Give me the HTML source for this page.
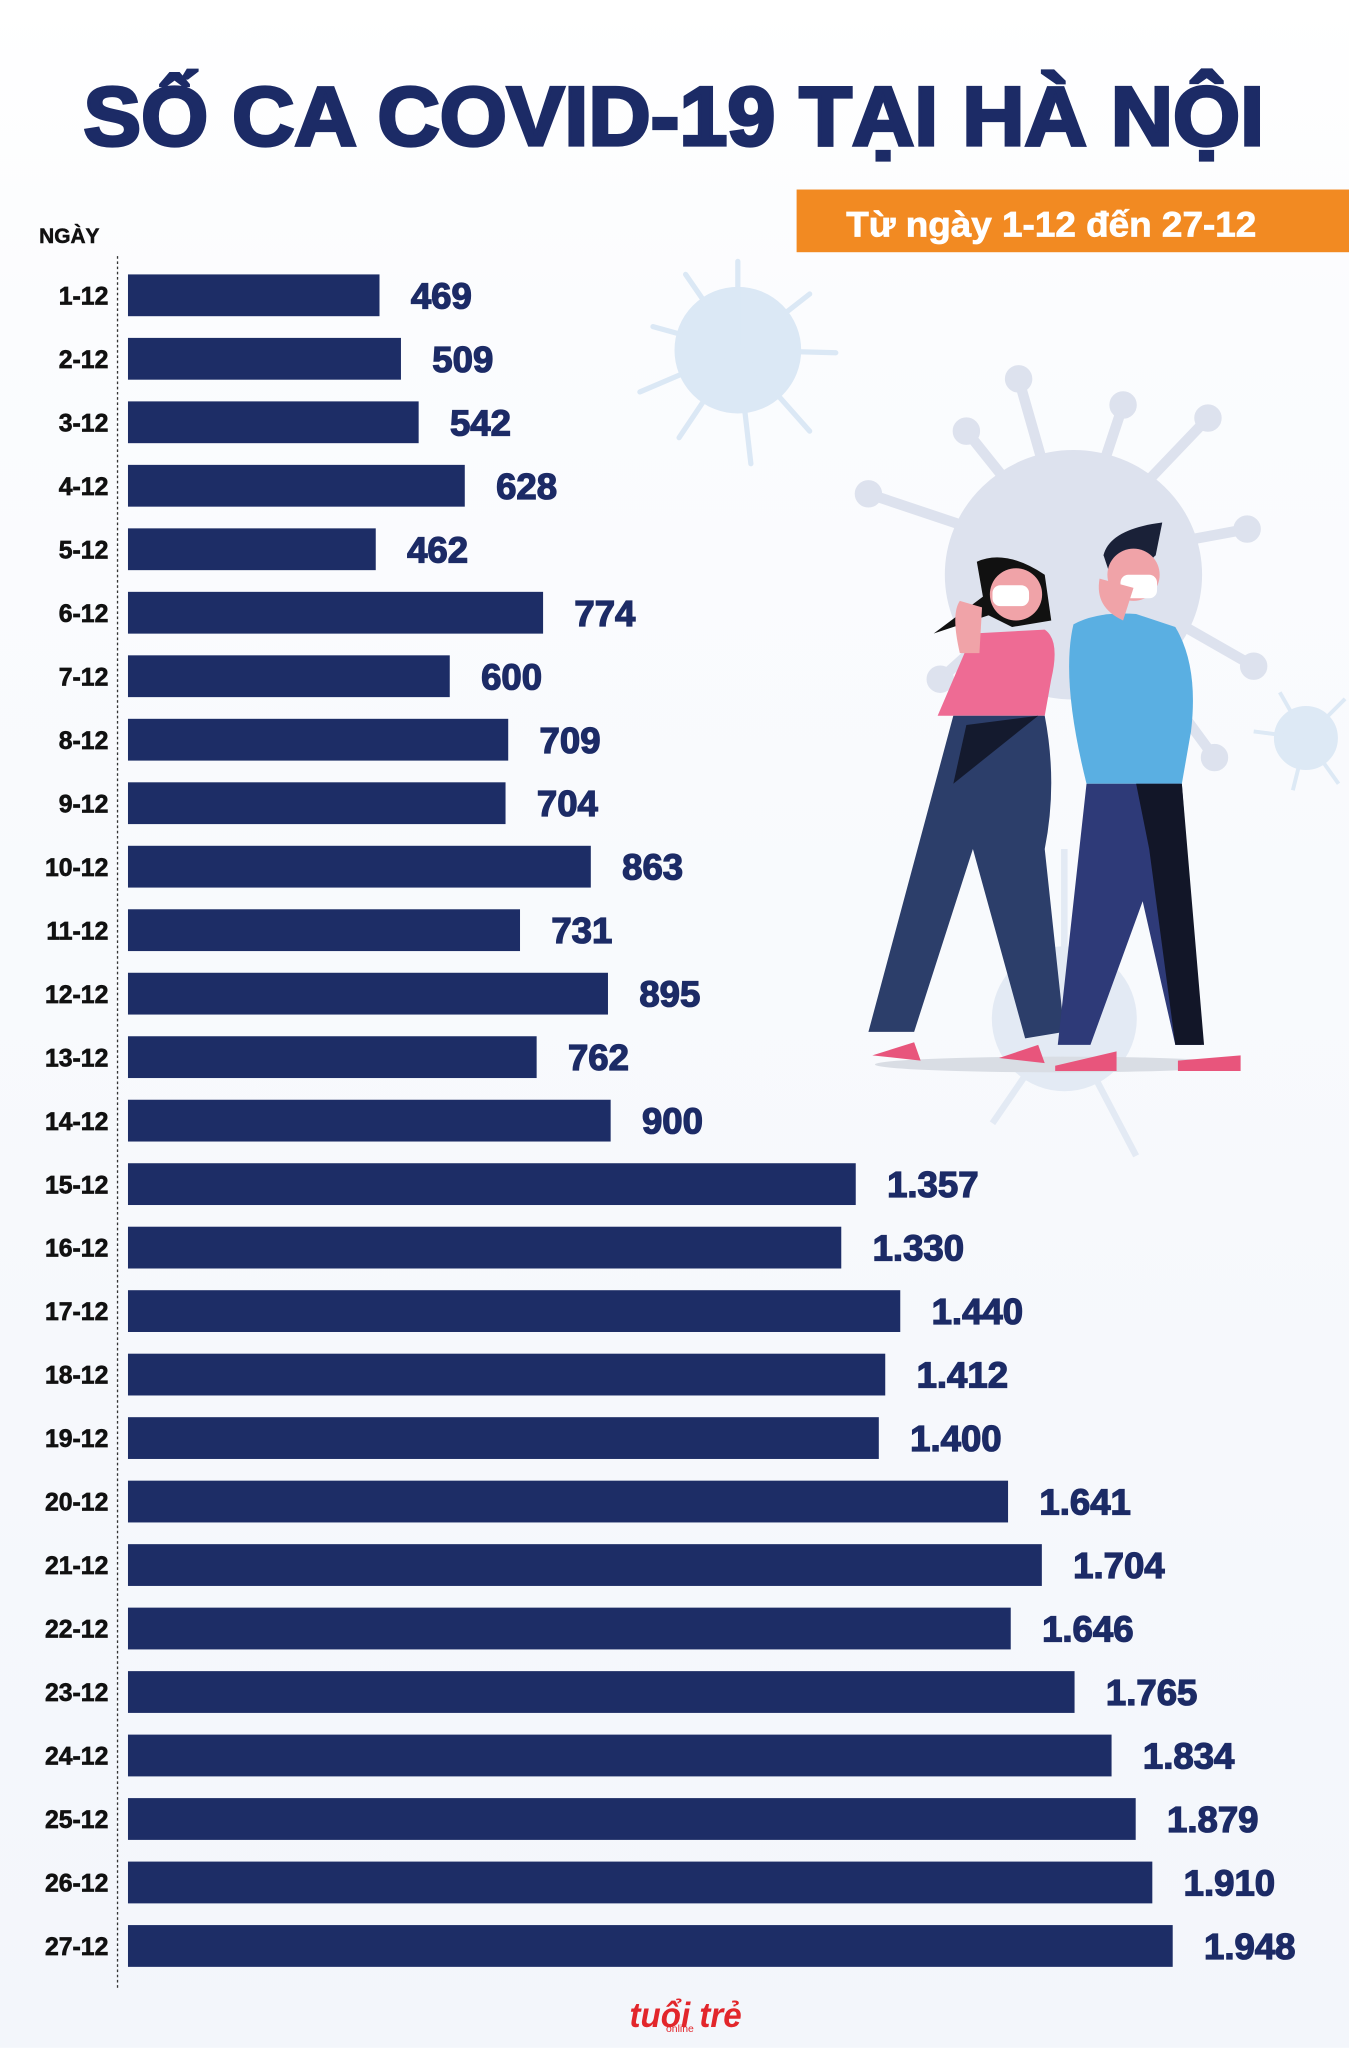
<!DOCTYPE html>
<html><head><meta charset="utf-8"><style>
html,body{margin:0;padding:0;background:#fff}
svg{display:block;font-family:"Liberation Sans",sans-serif}
</style></head><body>
<svg id="chart" width="1349" height="2048" viewBox="0 0 1033 1568" xmlns="http://www.w3.org/2000/svg">
<defs>
<linearGradient id="bg" x1="0" y1="0" x2="0" y2="1">
<stop offset="0" stop-color="#ffffff"/><stop offset="0.15" stop-color="#fbfcfe"/><stop offset="1" stop-color="#f3f6fb"/>
</linearGradient>
</defs>
<rect x="0" y="0" width="1033" height="1568" fill="url(#bg)"/>
<g id="illus">
  <g fill="#dbe8f5" stroke="#dbe8f5">
    <circle cx="565" cy="268" r="48"/>
    <g stroke-width="4" stroke-linecap="round">
      <line x1="565" y1="268" x2="565" y2="200"/><line x1="565" y1="268" x2="620" y2="225"/><line x1="565" y1="268" x2="500" y2="250"/>
      <line x1="565" y1="268" x2="640" y2="270"/><line x1="565" y1="268" x2="490" y2="300"/><line x1="565" y1="268" x2="575" y2="355"/>
      <line x1="565" y1="268" x2="620" y2="330"/><line x1="565" y1="268" x2="520" y2="335"/><line x1="565" y1="268" x2="525" y2="210"/>
    </g>
  </g>
  <g fill="#dde9f5" stroke="#dde9f5">
    <circle cx="1000" cy="565" r="24"/>
    <g stroke-width="3"><line x1="1000" y1="565" x2="960" y2="560"/><line x1="1000" y1="565" x2="1030" y2="535"/><line x1="1000" y1="565" x2="990" y2="605"/><line x1="1000" y1="565" x2="980" y2="530"/><line x1="1000" y1="565" x2="1025" y2="600"/></g>
  </g>
  <g fill="#dde2ee" stroke="#dde2ee">
    <g stroke-width="8" stroke-linecap="round">
      <line x1="820" y1="430" x2="780" y2="290"/><line x1="820" y1="430" x2="860" y2="310"/><line x1="820" y1="430" x2="925" y2="320"/>
      <line x1="820" y1="430" x2="665" y2="378"/><line x1="820" y1="430" x2="955" y2="405"/><line x1="820" y1="430" x2="960" y2="510"/>
      <line x1="820" y1="430" x2="720" y2="520"/><line x1="820" y1="430" x2="740" y2="330"/><line x1="820" y1="430" x2="930" y2="580"/>
    </g>
    <ellipse cx="822" cy="440" rx="98" ry="95"/>
    <g><circle cx="780" cy="290" r="10"/><circle cx="860" cy="310" r="10"/><circle cx="925" cy="320" r="10"/><circle cx="665" cy="378" r="10"/><circle cx="955" cy="405" r="10"/><circle cx="960" cy="510" r="10"/><circle cx="720" cy="520" r="10"/><circle cx="740" cy="330" r="10"/><circle cx="930" cy="580" r="10"/></g>
  </g>
  <g fill="#e3eaf4" stroke="#e3eaf4">
    <circle cx="815" cy="780" r="55"/>
    <g stroke-width="5"><line x1="815" y1="780" x2="870" y2="885"/><line x1="815" y1="780" x2="760" y2="860"/><line x1="815" y1="780" x2="815" y2="650"/></g>
  </g>
  <ellipse cx="810" cy="815" rx="140" ry="6" fill="#d9dde4"/>
  <g>
    <path d="M748 430 Q770 420 800 440 L805 475 L775 480 L755 470 Z" fill="#111"/>
    <path d="M755 455 L715 485 L760 470 Z" fill="#111"/>
    <circle cx="778" cy="455" r="20" fill="#f0a3a8"/>
    <rect x="760" y="448" width="28" height="16" rx="6" fill="#fff"/>
    <path d="M745 485 L800 482 Q812 490 805 520 L800 548 L718 548 Z" fill="#ee6b94"/>
    <path d="M735 460 Q728 470 735 500 L750 500 L752 465 Z" fill="#f0a3a8"/>
    <path d="M730 548 L800 548 Q810 600 800 650 L815 790 L785 795 L745 650 L700 790 L665 790 Z" fill="#2c3e6a"/>
    <path d="M740 555 L795 548 L730 600 Z" fill="#141a2e"/>
    <path d="M668 808 L700 798 L705 812 Z" fill="#e8557c"/>
    <path d="M765 810 L795 800 L800 814 Z" fill="#e8557c"/>
  </g>
  <g>
    <path d="M845 425 Q850 405 890 400 L885 425 L870 440 L850 440 Z" fill="#1a2138"/>
    <circle cx="868" cy="440" r="20" fill="#f0a3a8"/>
    <rect x="858" y="440" width="28" height="18" rx="6" fill="#fff"/>
    <path d="M822 478 Q840 468 870 470 L900 480 Q918 510 912 560 L905 600 L832 600 Q812 520 822 478 Z" fill="#5aafe2"/>
    <path d="M842 443 Q838 465 860 475 L868 450 Z" fill="#f0a3a8"/>
    <path d="M832 600 L905 600 L920 800 L900 800 L875 690 L835 800 L810 800 Z" fill="#2e3a78"/>
    <path d="M870 600 L905 600 L922 800 L900 800 L880 650 Z" fill="#121628"/>
    <path d="M808 816 L855 805 L855 820 L808 820 Z" fill="#e8557c"/>
    <path d="M902 812 L950 808 L950 820 L902 820 Z" fill="#e8557c"/>
  </g>
</g>
<text x="64" y="111" textLength="904" lengthAdjust="spacingAndGlyphs" font-size="64" font-weight="900" fill="#1c2b66" stroke="#1c2b66" stroke-width="2.5">SỐ CA COVID-19 TẠI HÀ NỘI</text>
<rect x="610" y="145" width="423" height="48" fill="#f28a22"/>
<text x="648" y="181" textLength="314" lengthAdjust="spacingAndGlyphs" font-size="27" font-weight="bold" fill="#fff" stroke="#fff" stroke-width="0.6">Từ ngày 1-12 đến 27-12</text>
<text x="30" y="186" font-size="16" font-weight="bold" fill="#111" stroke="#111" stroke-width="0.4">NGÀY</text>
<line x1="90" y1="196" x2="90" y2="1522" stroke="#333" stroke-width="1" stroke-dasharray="2,2"/>
<g id="bars"></g>
<g>
<text x="482" y="1552" font-size="27" font-weight="bold" font-style="italic" fill="#e2262b" textLength="86" lengthAdjust="spacingAndGlyphs">tuổi trẻ</text>
<text x="510" y="1556" font-size="8" fill="#e2262b">online</text>
</g>
</svg>
<script>
const categories = ["1-12","2-12","3-12","4-12","5-12","6-12","7-12","8-12","9-12","10-12","11-12","12-12","13-12","14-12","15-12","16-12","17-12","18-12","19-12","20-12","21-12","22-12","23-12","24-12","25-12","26-12","27-12"];
const cases = [469,509,542,628,462,774,600,709,704,863,731,895,762,900,1357,1330,1440,1412,1400,1641,1704,1646,1765,1834,1879,1910,1948];
const valueLabels = ["469","509","542","628","462","774","600","709","704","863","731","895","762","900","1.357","1.330","1.440","1.412","1.400","1.641","1.704","1.646","1.765","1.834","1.879","1.910","1.948"];

const NS = "http://www.w3.org/2000/svg";
const x0 = 98, pxPerUnit = 800 / 1948;
function xScale(v){ return x0 + v * pxPerUnit; }
function yCenter(i){ return 226 + i * ((1490 - 226) / (categories.length - 1)); }
const g = document.getElementById('bars');
categories.forEach((c, i) => {
  const cy = yCenter(i);
  const r = document.createElementNS(NS, 'rect');
  r.setAttribute('x', x0); r.setAttribute('y', cy - 16);
  r.setAttribute('width', xScale(cases[i]) - x0); r.setAttribute('height', 32);
  r.setAttribute('fill', '#1d2d66');
  
  
  g.appendChild(r);
  const l = document.createElementNS(NS, 'text');
  l.setAttribute('x', 83); l.setAttribute('y', cy + 7);
  l.setAttribute('text-anchor', 'end'); l.setAttribute('font-size', '19');
  l.setAttribute('font-weight', 'bold'); l.setAttribute('fill', '#111');
  l.setAttribute('stroke', '#111'); l.setAttribute('stroke-width', '0.5');
  l.textContent = c;
  
  
  g.appendChild(l);
  const v = document.createElementNS(NS, 'text');
  v.setAttribute('x', xScale(cases[i]) + 24); v.setAttribute('y', cy + 10);
  v.setAttribute('font-size', '28'); v.setAttribute('font-weight', 'bold');
  v.setAttribute('fill', '#1c2b66');
  v.setAttribute('stroke', '#1c2b66'); v.setAttribute('stroke-width', '1');
  v.textContent = valueLabels[i];
  
  
  g.appendChild(v);
});
</script>
</body></html>
